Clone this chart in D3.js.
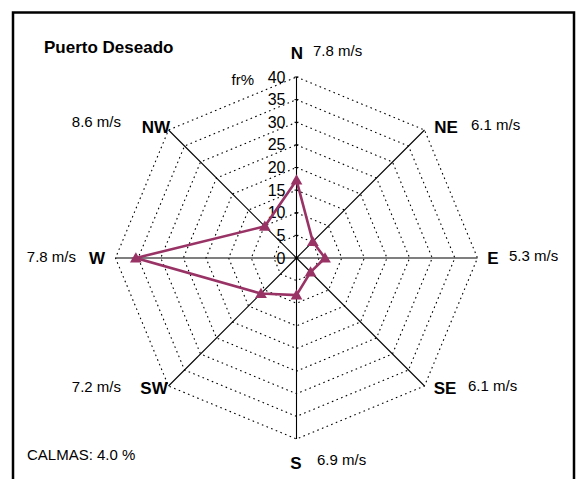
<!DOCTYPE html>
<html><head><meta charset="utf-8">
<script src="https://cdn.jsdelivr.net/npm/d3@7"></script>
<style>body{margin:0;background:#fff;}svg{display:block;font-family:"Liberation Sans",Arial,sans-serif;}</style>
</head><body>
<script>
const directions = ["N","NE","E","SE","S","SW","W","NW"];
const frequencies = [17.2, 5.1, 6.3, 4.4, 8.2, 11.1, 35.5, 9.9];
const speeds = ["7.8 m/s","6.1 m/s","5.3 m/s","6.1 m/s","6.9 m/s","7.2 m/s","7.8 m/s","8.6 m/s"];
const ticks = [0,5,10,15,20,25,30,35,40];
const title = "Puerto Deseado";
const calmas = "CALMAS: 4.0 %";
const unitLabel = "fr%";

const W = 581, H = 479;
const cx = 296.5, cy = 258;
const svg = d3.select("body").append("svg").attr("width", W).attr("height", H);
svg.append("rect").attr("width", W).attr("height", H).attr("fill", "#fff");
// frame
svg.append("path").attr("d", `M13,${H+5} V12.5 H574 V${H+5}`).attr("fill","none").attr("stroke","#000").attr("stroke-width",2.5);

const r = d3.scaleLinear().domain([0,40]).range([0,181]);
const ang = d3.scalePoint().domain(directions).range([0, 2*Math.PI*7/8]);
const pt = (d, v) => [cx + r(v)*Math.sin(ang(d)), cy - r(v)*Math.cos(ang(d))];

const g = svg.append("g");
// grid octagons
ticks.filter(t => t > 0).forEach(t => {
  g.append("path")
    .attr("d", d3.line()(directions.map(d => pt(d, t)).concat([pt(directions[0], t)])))
    .attr("fill","none").attr("stroke","#000").attr("stroke-width",1.1)
    .attr("stroke-dasharray","1.6,3.4");
});
// axis spokes
directions.forEach(d => {
  const [x2,y2] = pt(d, 40);
  g.append("line").attr("x1",cx).attr("y1",cy).attr("x2",x2).attr("y2",y2)
    .attr("stroke","#000").attr("stroke-width",1.1);
});
// tick marks and labels on N axis
ticks.forEach(t => {
  const [x,y] = pt("N", t);
  g.append("line").attr("x1",x-2).attr("x2",x+2).attr("y1",y).attr("y2",y).attr("stroke","#000").attr("stroke-width",1);
  g.append("text").attr("x", x-11).attr("y", y).attr("dy","0.35em").attr("text-anchor","end")
    .attr("font-size",16).attr("fill","#000").text(t);
});
svg.append("text").attr("x",254).attr("y",80).attr("dy","0.35em").attr("text-anchor","end").attr("font-size",15).text(unitLabel);

// data polygon
const pts = directions.map((d,i) => pt(d, frequencies[i]));
g.append("path").attr("d", d3.line()(pts.concat([pts[0]])))
  .attr("fill","none").attr("stroke","#993366").attr("stroke-width",2.6).attr("stroke-linejoin","miter");
g.selectAll("path.mk").data(pts).join("path").attr("class","mk")
  .attr("transform", p => `translate(${p[0]},${p[1]+1})`)
  .attr("d", d3.symbol(d3.symbolTriangle, 60)())
  .attr("fill","#993366");

// direction labels
const dirPos = {N:[297,53],NE:[446,127],E:[493,258],SE:[445,388],S:[296,463],SW:[154,388],W:[97,258],NW:[156,127]};
const spdPos = {N:[313,51,"start"],NE:[471,125,"start"],E:[509,256,"start"],SE:[468,386,"start"],S:[317,460,"start"],SW:[121,387,"end"],W:[76,257,"end"],NW:[121,122,"end"]};
directions.forEach((d,i) => {
  svg.append("text").attr("x",dirPos[d][0]).attr("y",dirPos[d][1]).attr("dy","0.35em").attr("text-anchor","middle")
    .attr("font-size",17).attr("font-weight","bold").text(d);
  svg.append("text").attr("x",spdPos[d][0]).attr("y",spdPos[d][1]).attr("dy","0.35em").attr("text-anchor",spdPos[d][2])
    .attr("font-size",15).text(speeds[i]);
});
svg.append("text").attr("x",44).attr("y",47).attr("dy","0.35em").attr("font-size",17).attr("font-weight","bold").text(title);
svg.append("text").attr("x",27).attr("y",455).attr("dy","0.35em").attr("font-size",15).text(calmas);
</script>
</body></html>
